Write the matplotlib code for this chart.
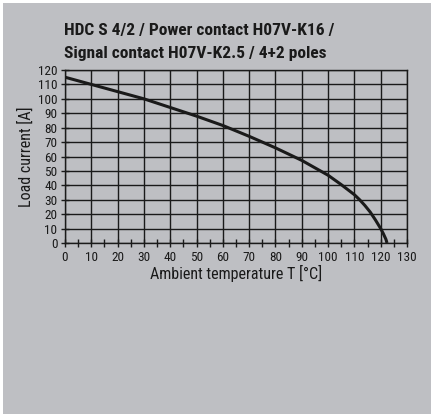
import matplotlib
matplotlib.use("Agg")
import matplotlib.pyplot as plt
from matplotlib.patches import Rectangle
from matplotlib.ticker import MultipleLocator
from matplotlib import font_manager

temperature = [0, 10, 20, 30, 40, 50, 60, 70, 80, 90, 100, 105, 110, 112, 114, 116, 118, 120, 121, 122, 122.4]
current = [115, 110, 105, 100, 94, 88, 81.5, 74, 66, 57.3, 47, 40.5, 33.5, 30, 26, 21.5, 16, 10, 6.5, 2.5, 0]

title_lines = ["HDC S 4/2 / Power contact H07V-K16 /",
               "Signal contact H07V-K2.5 / 4+2 poles"]
xlabel = "Ambient temperature T [°C]"
ylabel = "Load current [A]"
xticks = list(range(0, 131, 10))
yticks = list(range(0, 121, 10))

names = {f.name for f in font_manager.fontManager.ttflist}
font = [n for n in ["Roboto Condensed", "Liberation Sans Narrow"] if n in names] + ["DejaVu Sans"]
plt.rcParams["font.family"] = font
plt.rcParams["font.stretch"] = "condensed"

W, H = 433, 417
fig = plt.figure(figsize=(W / 100, H / 100), dpi=100)
fig.patch.set_facecolor("white")
bg = "#bebfc3"
ink = "#1a1a1a"
fig.patches.append(Rectangle((3 / W, 3 / H), (431 - 3) / W, (414 - 3) / H,
                             transform=fig.transFigure, facecolor=bg, edgecolor="none", zorder=-10))

ax = fig.add_axes([65 / W, 1 - 243 / H, (407 - 65) / W, (243 - 70) / H])
ax.set_zorder(5)
ax.set_facecolor(bg)
ax.plot(temperature, current, color=ink, lw=2.2, solid_capstyle="butt",
        solid_joinstyle="round", zorder=3)
ax.set_xlim(0, 130)
ax.set_ylim(0, 120)
ax.set_xticks(xticks)
ax.set_yticks(yticks)
ax.xaxis.set_minor_locator(MultipleLocator(5))
ax.grid(True, which="major", color=ink, lw=1.0)
ax.tick_params(which="major", direction="inout", length=6, width=1.0, color=ink,
               labelsize=9.5, pad=2.5, labelcolor=ink)
ax.tick_params(axis="x", which="minor", direction="inout", length=6, width=1.0, color=ink)
for s in ax.spines.values():
    s.set_color(ink)
    s.set_linewidth(1.0)
ax.set_xlabel(xlabel, fontsize=11.5, color=ink, labelpad=1)
ax.set_ylabel(ylabel, fontsize=11.5, color=ink, labelpad=3)

for i, line in enumerate(title_lines):
    fig.text(64 / W, 1 - (35 + 23 * i) / H, line, fontsize=12.5, fontweight="bold",
             color=ink, va="baseline", ha="left", zorder=6)

fig.savefig("out.png", dpi=100)
